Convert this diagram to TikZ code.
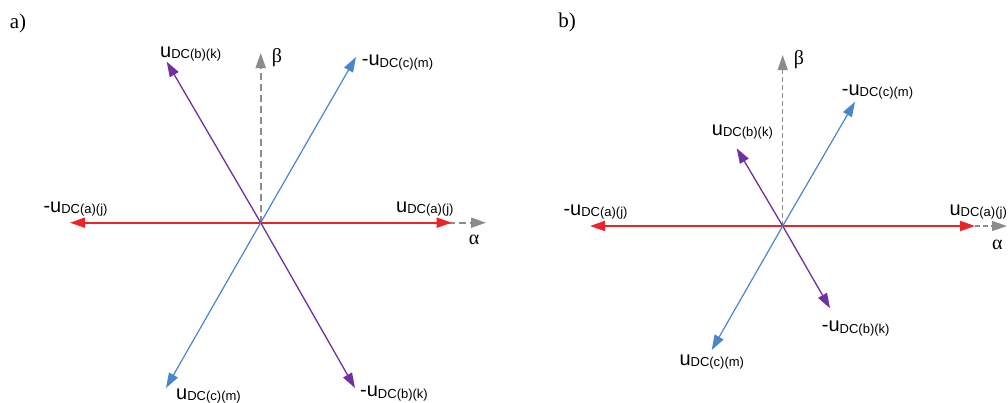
\documentclass[tikz,border=0pt]{standalone}
\usepackage{fontspec}
\setmainfont{Liberation Serif}
\setsansfont{Liberation Sans}
\usetikzlibrary{arrows.meta}
\definecolor{vred}{RGB}{236,36,40}
\definecolor{vblue}{RGB}{74,134,204}
\definecolor{vpurple}{RGB}{112,48,160}
\definecolor{vgray}{RGB}{140,140,140}
\newcommand{\vlab}[2]{\fontsize{20}{20}\selectfont #1\raisebox{-1.5pt}{\fontsize{13}{13}\selectfont #2}}
\begin{document}
\begin{tikzpicture}[x=1pt,y=-1pt,
  tipa/.style={-{Triangle[length=15pt,width=10pt]}},
  redvec/.style={tipa,draw=vred,line width=1.8pt},
  bluevec/.style={tipa,draw=vblue,line width=1.2pt},
  purplevec/.style={tipa,draw=vpurple,line width=1.3pt},
  axisa/.style={tipa,draw=vgray,line width=1.8pt,dash pattern=on 7pt off 4pt},
  axisb/.style={tipa,draw=vgray,line width=1.3pt,dash pattern=on 5pt off 3pt},
  lab/.style={anchor=base west,inner sep=0pt,font=\sffamily},
  greek/.style={inner sep=0pt,font=\fontsize{20}{20}\selectfont},
  panel/.style={inner sep=0pt,font=\fontsize{21}{21}\selectfont}]
\useasboundingbox (0,0) rectangle (1008,402);
\fill[white] (0,0) rectangle (1008,402);

% ---------- panel a ----------
\node[panel] (pa) at (18,23) {a)};
\coordinate (Oa) at (260.7,222.7);
\coordinate (Ba) at (260.7,53);
\coordinate (Aa) at (486,222.7);
\coordinate (Ua) at (451.7,222.7);
\coordinate (Una) at (70,222.7);
\coordinate (Ub) at (166.7,61.7);
\coordinate (Unb) at (355,388);
\coordinate (Unc) at (356,57);
\coordinate (Uc) at (166,388);
\draw[axisa] (Oa) -- (Ba);
\draw[axisa] (Oa) -- (Aa);
\draw[redvec] (Oa) -- (Ua);
\draw[redvec] (Oa) -- (Una);
\draw[purplevec] (Oa) -- (Ub);
\draw[purplevec] (Oa) -- (Unb);
\draw[bluevec] (Oa) -- (Unc);
\draw[bluevec] (Oa) -- (Uc);
\node[greek] (beta-a) at (277,58) {β};
\node[greek] (alpha-a) at (474,240) {α};
\node[lab] (lUb-a) at (160,57.3) {\vlab{u}{DC(b)(k)}};
\node[lab] (lUnc-a) at (361.7,65.5) {\vlab{-u}{DC(c)(m)}};
\node[lab] (lUna-a) at (43.3,212.3) {\vlab{-u}{DC(a)(j)}};
\node[lab] (lUa-a) at (396,212.3) {\vlab{u}{DC(a)(j)}};
\node[lab] (lUc-a) at (176,399) {\vlab{u}{DC(c)(m)}};
\node[lab] (lUnb-a) at (360,396.7) {\vlab{-u}{DC(b)(k)}};

% ---------- panel b ----------
\node[panel] (pb) at (567,22.5) {b)};
\coordinate (Ob) at (782.7,226);
\coordinate (Bb) at (782.7,55);
\coordinate (Ab) at (1007,226);
\coordinate (Vb) at (975,226);
\coordinate (Vnb) at (590,226);
\coordinate (Wb) at (736.7,148.3);
\coordinate (Wnb) at (830,308.3);
\coordinate (Xnb) at (855,101.7);
\coordinate (Xb) at (711.7,350);
\draw[axisb] (Ob) -- (Bb);
\draw[axisb] (Ob) -- (Ab);
\draw[redvec] (Ob) -- (Vb);
\draw[redvec] (Ob) -- (Vnb);
\draw[purplevec] (Ob) -- (Wb);
\draw[purplevec] (Ob) -- (Wnb);
\draw[bluevec] (Ob) -- (Xnb);
\draw[bluevec] (Ob) -- (Xb);
\node[greek] (beta-b) at (799,60) {β};
\node[greek] (alpha-b) at (997.3,245) {α};
\node[lab] (lXnb) at (841.7,95) {\vlab{-u}{DC(c)(m)}};
\node[lab] (lWb) at (711.7,135) {\vlab{u}{DC(b)(k)}};
\node[lab] (lVnb) at (563.3,215) {\vlab{-u}{DC(a)(j)}};
\node[lab] (lVb) at (949.3,215) {\vlab{u}{DC(a)(j)}};
\node[lab] (lWnb) at (821.7,331.7) {\vlab{-u}{DC(b)(k)}};
\node[lab] (lXb) at (679.3,365) {\vlab{u}{DC(c)(m)}};
\end{tikzpicture}
\end{document}
